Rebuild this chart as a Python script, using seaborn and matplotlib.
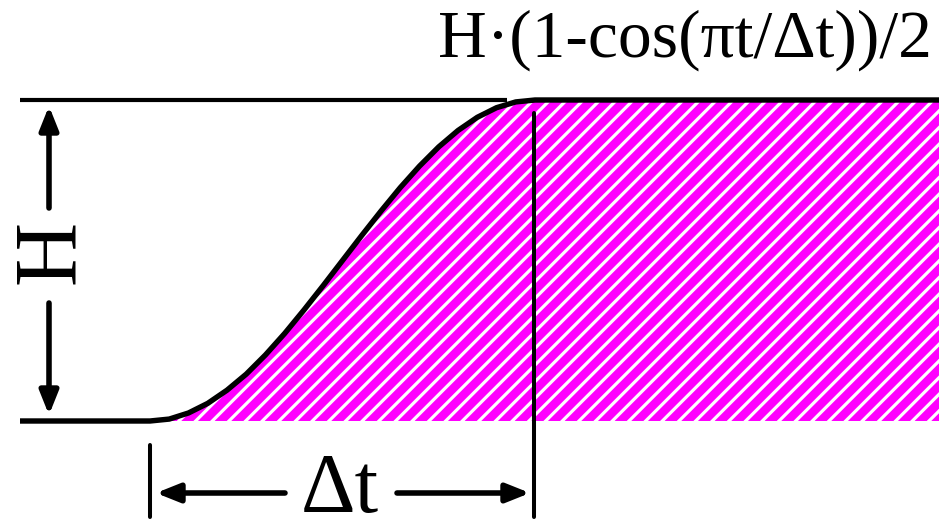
import numpy as np
import pandas as pd
import seaborn as sns
import matplotlib
matplotlib.use("Agg")
import matplotlib.pyplot as plt

# ramp shape (t in units of dt, h in units of H)
ramp_t = [0.0, 0.05, 0.1, 0.15, 0.2, 0.25, 0.3, 0.35, 0.4, 0.45, 0.5,
          0.55, 0.6, 0.65, 0.7, 0.75, 0.8, 0.85, 0.9, 0.95, 1.0]
ramp_h = [0.0, 0.006, 0.025, 0.055, 0.096, 0.146, 0.206, 0.273, 0.346, 0.422, 0.5,
          0.578, 0.654, 0.727, 0.794, 0.854, 0.905, 0.946, 0.976, 0.994, 1.0]
formula = "H\u00b7(1-cos(\u03c0t/\u0394t))/2"
h_label = "H"
dt_label = "\u0394t"

sns.set_theme(style="white")
plt.rcParams["font.family"] = ["Liberation Serif", "DejaVu Serif"]
plt.rcParams["hatch.linewidth"] = 2.3

fig = plt.figure(figsize=(9.39, 5.21), dpi=100)
ax = fig.add_axes([0, 0, 1, 1])

t_left, t_right = -130 / 385, 2.1
curve = pd.DataFrame({
    "t": [t_left] + ramp_t + [t_right],
    "h": [0.0] + ramp_h + [1.0],
})

sns.lineplot(data=curve, x="t", y="h", sort=False, color="black", lw=3.9,
             ax=ax, zorder=3, solid_capstyle="butt")

# hatched area under the ramp
fill = curve[curve["t"] >= 0]
ax.fill_between(fill["t"].to_numpy(), 0, fill["h"].to_numpy(), facecolor="#ff00ff",
                edgecolor="white", hatch="//", linewidth=0, zorder=1)

# pixel mapping: x = 150 + 385 t, y = 421 - 321 h
ax.set_xlim(-150 / 385, 789 / 385)
ax.set_ylim(-100 / 321, 421 / 321)
ax.axis("off")

# top reference line
ax.plot([t_left, 357 / 385], [1, 1], color="black", lw=3.0, solid_capstyle="butt", zorder=3)
# dt markers
ax.plot([1 - 1 / 385, 1 - 1 / 385], [308 / 321, -96 / 321], color="black", lw=2.9, zorder=3)
ax.plot([0, 0], [-24 / 321, -96 / 321], color="black", lw=2.9, zorder=3)

arrow = dict(arrowstyle="-|>,head_length=0.7,head_width=0.28", color="black",
             lw=4.0, shrinkA=0, shrinkB=0, mutation_scale=20)
y_dt = -72 / 321
ax.annotate("", xy=(6 / 385, y_dt), xytext=(135 / 385, y_dt), arrowprops=arrow)
ax.annotate("", xy=(380 / 385, y_dt), xytext=(247 / 385, y_dt), arrowprops=arrow)
ax.text(190 / 385, y_dt + 0.005, dt_label, fontsize=61, ha="center", va="center",
        color="black")

x_h = -101 / 385
ax.annotate("", xy=(x_h, 315 / 321), xytext=(x_h, 213 / 321), arrowprops=arrow)
ax.annotate("", xy=(x_h, 6 / 321), xytext=(x_h, 118 / 321), arrowprops=arrow)
ax.text(x_h + 2 / 385, 169 / 321, h_label, fontsize=64, rotation=90, ha="center",
        va="center", color="black")

ax.text(932 / 385 - 150 / 385, 364 / 321, formula, fontsize=48.6, ha="right",
        va="baseline", color="black")

fig.savefig("out.png", dpi=100)
